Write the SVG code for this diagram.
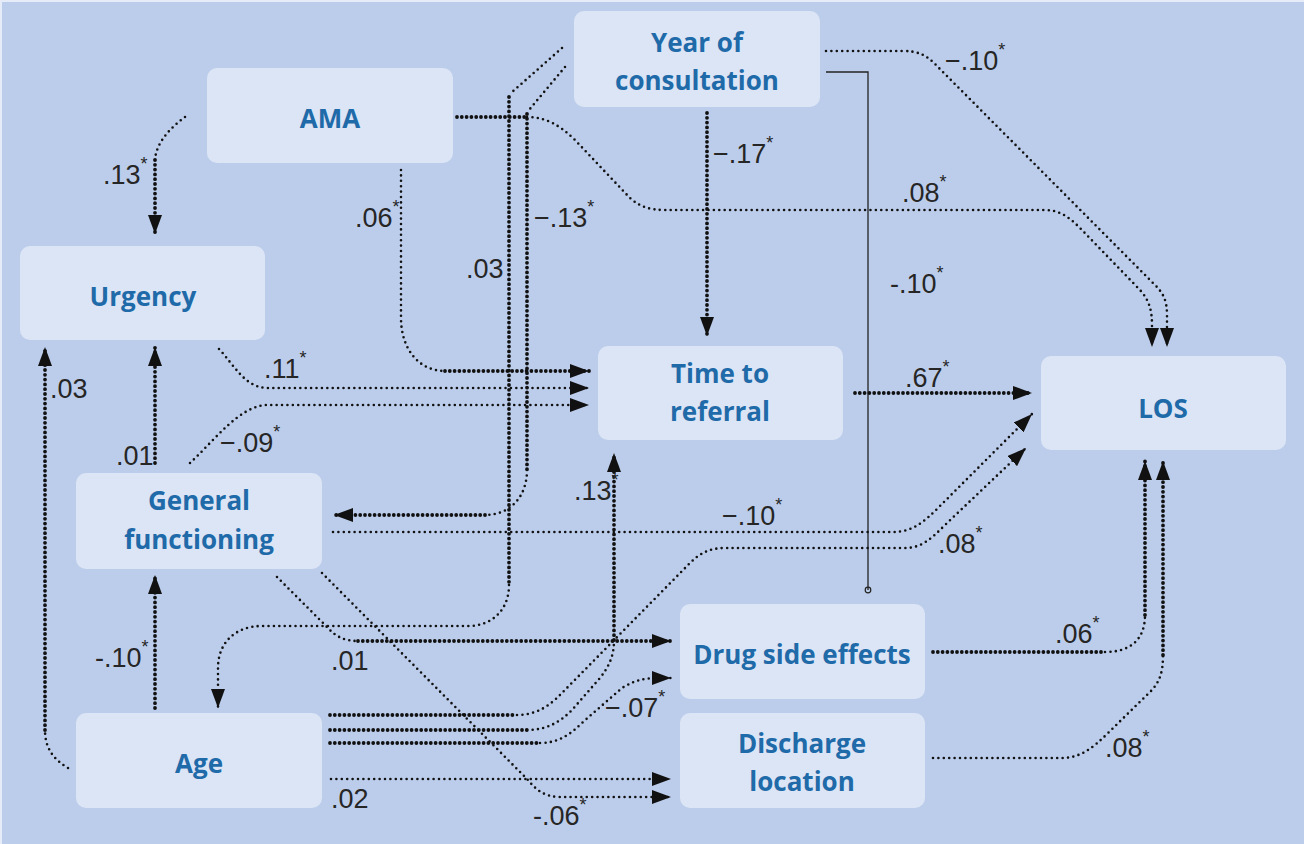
<svg xmlns="http://www.w3.org/2000/svg" width="1304" height="844" viewBox="0 0 1304 844">
<defs>
<style>
.bg{fill:#bccdeb}
.box{fill:#dce5f5}
.nt{font-family:"Open Sans","Noto Sans",sans-serif;font-weight:700;font-size:26px;fill:#1f6aa8;text-anchor:middle}
.lb{font-family:"Liberation Sans",Arial,sans-serif;font-size:27px;fill:#262626}
.st{font-size:18px}
.t{fill:none;stroke:#111;stroke-width:2.6;stroke-dasharray:0 5.4;stroke-linecap:round}
.d{fill:none;stroke:#111;stroke-width:3.8;stroke-dasharray:0 4.8;stroke-linecap:round}
.s{fill:none;stroke:#222;stroke-width:1.3}
</style>
<marker id="ah" viewBox="0 0 19 14" refX="19" refY="7" markerWidth="19" markerHeight="14" markerUnits="userSpaceOnUse" orient="auto">
<path d="M0,0 L19,7 L0,14 z" fill="#111"/>
</marker>
<marker id="sm" viewBox="0 0 10 10" refX="5" refY="5" markerWidth="8" markerHeight="8" markerUnits="userSpaceOnUse" orient="auto">
<circle cx="5" cy="5" r="3.5" fill="none" stroke="#222" stroke-width="1.5"/>
</marker>
</defs>
<rect class="bg" x="0" y="0" width="1304" height="844"/>
<rect x="0" y="0" width="1304" height="2" fill="#e6ecf7"/>
<rect x="0" y="0" width="2" height="844" fill="#e6ecf7"/>

<g id="connectors">
<!-- AMA -> Urgency -->
<path class="t" d="M185,117 C170,128 156,143 155,160"/>
<path class="d" d="M155,160 L155,234" marker-end="url(#ah)"/>
<!-- AMA -> Time to referral -->
<path class="t" d="M401,170 L401,318 C401,348 418,371 445,371"/>
<path class="d" d="M445,371 L589,371" marker-end="url(#ah)"/>
<!-- AMA dense stub -->
<path class="d" d="M457,117 L527,117"/>
<!-- AMA -> LOS -->
<path class="t" d="M527,117 C545,117 560,125 575,140 L630,198 C640,207 650,210 665,210 L1045,210 C1060,210 1070,218 1080,228 L1140,290 C1149,300 1152,310 1152,325 L1152,347" marker-end="url(#ah)"/>
<!-- Year -> Age -->
<path class="t" d="M562,48 L511,93"/>
<path class="d" d="M509,97 L509,585"/>
<path class="t" d="M509,585 C509,610 492,626 468,626 L262,626 C235,626 218,643 218,668 L218,708" marker-end="url(#ah)"/>
<!-- Year -> General functioning -->
<path class="t" d="M565,67 L529,110"/>
<path class="d" d="M527,114 L527,470"/>
<path class="t" d="M527,470 C527,497 510,515 485,515"/>
<path class="d" d="M485,515 L334,515" marker-end="url(#ah)"/>
<!-- Year -> Time to referral -->
<path class="d" d="M707,113 L707,336" marker-end="url(#ah)"/>
<!-- Year -> LOS -->
<path class="t" d="M826,51 L903,51 C918,51 925,55 933,62 L1155,285 C1163,293 1167,300 1167,315 L1167,347" marker-end="url(#ah)"/>
<!-- Year -> Drug side effects -->
<path class="s" d="M826,72 L868,72 L868,590" marker-end="url(#sm)"/>
<!-- Urgency -> Time -->
<path class="t" d="M219,349 C235,366 245,388 268,388 L589,388" marker-end="url(#ah)"/>
<!-- GF -> Time -->
<path class="t" d="M190,463 C215,440 240,405 268,405 L589,405" marker-end="url(#ah)"/>
<!-- Time -> LOS -->
<path class="d" d="M855,393 L1032,393" marker-end="url(#ah)"/>
<!-- GF -> LOS -->
<path class="t" d="M333,532 L893,532 C912,532 924,522 938,508 L1032,414" marker-end="url(#ah)"/>
<!-- Age -> LOS -->
<path class="d" d="M330,715 L517,715"/>
<path class="t" d="M517,715 C537,715 550,705 560,695 L690,563 C700,553 710,548 725,548 L905,548 C922,548 932,538 945,525 L1026,448" marker-end="url(#ah)"/>
<!-- Age -> Time -->
<path class="d" d="M330,730 L527,730"/>
<path class="t" d="M527,730 C547,730 560,722 572,710 L600,678 C610,665 614,655 614,640"/>
<path class="d" d="M614,640 L614,453" marker-end="url(#ah)"/>
<!-- Age -> Drug -->
<path class="d" d="M330,743 L540,743"/>
<path class="t" d="M540,743 C558,743 570,735 583,722 L622,688 C635,680 645,678 660,678 L671,678" marker-end="url(#ah)"/>
<!-- Age -> Discharge -->
<path class="t" d="M331,779 L671,779" marker-end="url(#ah)"/>
<!-- GF -> Discharge -->
<path class="t" d="M322,573 L528,780 C536,790 545,797 560,797 L671,797" marker-end="url(#ah)"/>
<!-- GF -> Drug -->
<path class="t" d="M277,577 L328,628 C336,637 345,641 358,641"/>
<path class="d" d="M358,641 L671,641" marker-end="url(#ah)"/>
<!-- Drug -> LOS -->
<path class="d" d="M933,652 L1105,652"/>
<path class="t" d="M1105,652 C1130,652 1145,640 1145,615"/>
<path class="d" d="M1145,615 L1145,461" marker-end="url(#ah)"/>
<!-- Discharge -> LOS -->
<path class="t" d="M933,758 L1062,758 C1080,758 1093,748 1108,733 L1150,692 C1160,682 1163,672 1163,655"/>
<path class="d" d="M1163,655 L1163,461" marker-end="url(#ah)"/>
<!-- Age -> Urgency -->
<path class="t" d="M68,768 C55,760 45,750 45,730"/>
<path class="d" d="M45,730 L45,347" marker-end="url(#ah)"/>
<!-- GF -> Urgency -->
<path class="d" d="M155,463 L155,347" marker-end="url(#ah)"/>
<!-- Age -> GF -->
<path class="d" d="M155,708 L155,575" marker-end="url(#ah)"/>
</g>

<g id="labels">
<text class="lb" x="103" y="184">.13<tspan class="st" dy="-14">*</tspan></text>
<text class="lb" x="355" y="227">.06<tspan class="st" dy="-14">*</tspan></text>
<text class="lb" x="466" y="278">.03</text>
<text class="lb" x="534" y="227">−.13<tspan class="st" dy="-14">*</tspan></text>
<text class="lb" x="713" y="163">−.17<tspan class="st" dy="-14">*</tspan></text>
<text class="lb" x="945" y="70">−.10<tspan class="st" dy="-14">*</tspan></text>
<text class="lb" x="902" y="202">.08<tspan class="st" dy="-14">*</tspan></text>
<text class="lb" x="890" y="293">-.10<tspan class="st" dy="-14">*</tspan></text>
<text class="lb" x="264" y="378">.11<tspan class="st" dy="-14">*</tspan></text>
<text class="lb" x="220" y="452">−.09<tspan class="st" dy="-14">*</tspan></text>
<text class="lb" x="905" y="387">.67<tspan class="st" dy="-14">*</tspan></text>
<text class="lb" x="722" y="525">−.10<tspan class="st" dy="-14">*</tspan></text>
<text class="lb" x="938" y="553">.08<tspan class="st" dy="-14">*</tspan></text>
<text class="lb" x="574" y="500">.13<tspan class="st" dy="-14">*</tspan></text>
<text class="lb" x="331" y="670">.01</text>
<text class="lb" x="605" y="717">−.07<tspan class="st" dy="-14">*</tspan></text>
<text class="lb" x="331" y="808">.02</text>
<text class="lb" x="533" y="825">-.06<tspan class="st" dy="-14">*</tspan></text>
<text class="lb" x="1055" y="643">.06<tspan class="st" dy="-14">*</tspan></text>
<text class="lb" x="1105" y="757">.08<tspan class="st" dy="-14">*</tspan></text>
<text class="lb" x="50" y="398">.03</text>
<text class="lb" x="116" y="465">.01</text>
<text class="lb" x="95" y="667">-.10<tspan class="st" dy="-14">*</tspan></text>
</g>

<g id="node-year">
<rect class="box" x="574" y="11" width="246" height="96" rx="10"/>
<text class="nt" x="697" y="52">Year of</text>
<text class="nt" x="697" y="90">consultation</text>
</g>
<g id="node-ama">
<rect class="box" x="207" y="68" width="246" height="95" rx="10"/>
<text class="nt" x="330" y="128">AMA</text>
</g>
<g id="node-urgency">
<rect class="box" x="20" y="246" width="245" height="94" rx="10"/>
<text class="nt" x="143" y="306">Urgency</text>
</g>
<g id="node-time">
<rect class="box" x="598" y="346" width="245" height="94" rx="10"/>
<text class="nt" x="720" y="383">Time to</text>
<text class="nt" x="720" y="421">referral</text>
</g>
<g id="node-los">
<rect class="box" x="1041" y="356" width="245" height="94" rx="10"/>
<text class="nt" x="1163" y="418">LOS</text>
</g>
<g id="node-gf">
<rect class="box" x="76" y="473" width="246" height="96" rx="10"/>
<text class="nt" x="199" y="510">General</text>
<text class="nt" x="199" y="549">functioning</text>
</g>
<g id="node-drug">
<rect class="box" x="680" y="604" width="245" height="95" rx="10"/>
<text class="nt" x="802" y="664">Drug side effects</text>
</g>
<g id="node-discharge">
<rect class="box" x="680" y="713" width="245" height="95" rx="10"/>
<text class="nt" x="802" y="753">Discharge</text>
<text class="nt" x="802" y="791">location</text>
</g>
<g id="node-age">
<rect class="box" x="76" y="713" width="246" height="95" rx="10"/>
<text class="nt" x="199" y="773">Age</text>
</g>
</svg>
